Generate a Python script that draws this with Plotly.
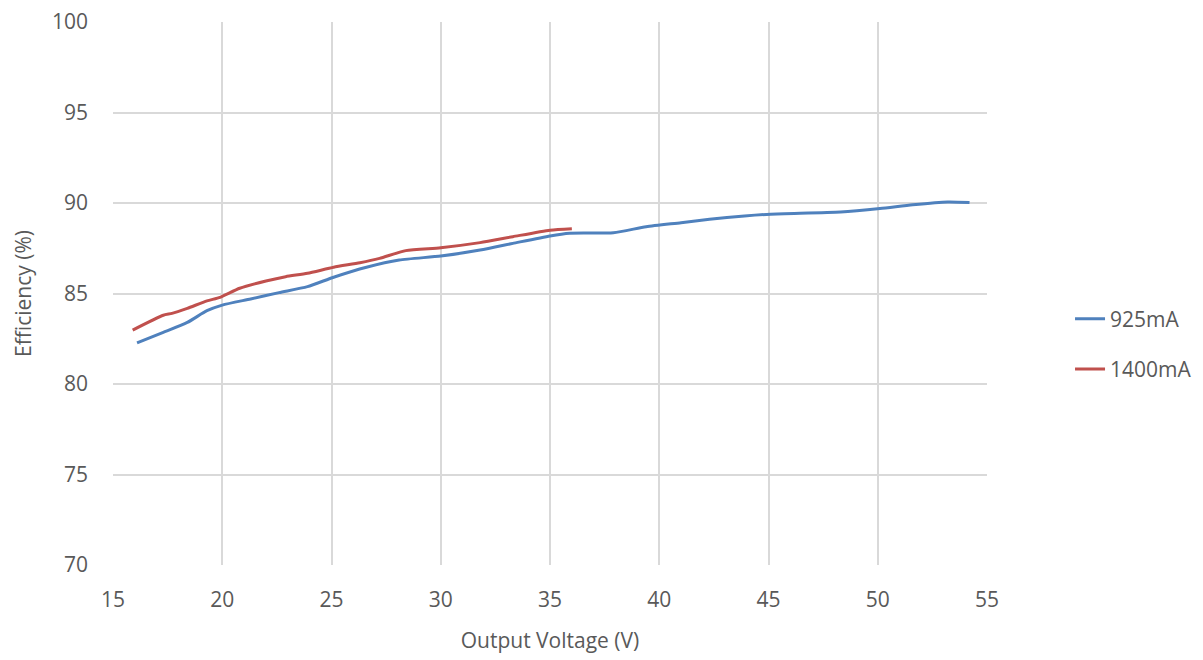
import plotly.graph_objects as go

v_925 = [16.1, 17.3, 18.4, 19.3, 20.0, 21.3, 22.6, 23.9, 25.1, 26.6, 28.1, 30.0, 31.8, 33.3, 35.0, 35.9, 37.9, 39.4, 41.0, 42.3, 43.9, 45.1, 48.3, 50.1, 51.6, 53.2, 54.2]
eff_925 = [82.27, 82.85, 83.4, 84.05, 84.36, 84.7, 85.05, 85.38, 85.9, 86.45, 86.85, 87.07, 87.4, 87.77, 88.18, 88.33, 88.36, 88.69, 88.91, 89.1, 89.28, 89.38, 89.5, 89.69, 89.9, 90.06, 90.03]

v_1400 = [15.9, 17.3, 17.7, 18.4, 19.3, 19.9, 20.8, 22.0, 22.9, 23.9, 25.1, 26.3, 27.2, 28.4, 30.0, 31.8, 33.3, 35.0, 36.0]
eff_1400 = [82.98, 83.8, 83.9, 84.18, 84.59, 84.79, 85.29, 85.69, 85.93, 86.12, 86.45, 86.7, 86.94, 87.37, 87.53, 87.81, 88.14, 88.5, 88.58]

x_ticks = [15, 20, 25, 30, 35, 40, 45, 50, 55]
y_ticks = [70, 75, 80, 85, 90, 95, 100]

FONT = "Open Sans, Liberation Sans, sans-serif"
GRAY = "#595959"
FS = 21

fig = go.Figure()
fig.add_trace(go.Scatter(x=v_925, y=eff_925, mode="lines", name="925mA",
                         line=dict(color="#4F81BD", width=3, shape="spline", smoothing=0.6),
                         legendgroup="a"))
fig.add_trace(go.Scatter(x=v_1400, y=eff_1400, mode="lines", name="1400mA",
                         line=dict(color="#C0504D", width=3, shape="spline", smoothing=0.6),
                         legendgroup="b"))

fig.update_layout(
    width=1195, height=652,
    margin=dict(l=105, r=216, t=14, b=95, autoexpand=False),
    paper_bgcolor="white", plot_bgcolor="white",
    font=dict(family=FONT, color=GRAY, size=FS),
    legend=dict(x=1.095, y=0.407, xanchor="left", yanchor="middle",
                font=dict(size=FS, color=GRAY), tracegroupgap=20,
                bgcolor="rgba(0,0,0,0)"),
    xaxis=dict(range=[15, 55], tickvals=x_ticks, showgrid=True, gridcolor="#D9D9D9",
               gridwidth=1.5, zeroline=False, showline=False, ticks="",
               automargin=False, ticklabelstandoff=20, ticklabeloverflow="allow",
               title=dict(text="Output Voltage (V)", font=dict(size=FS, color=GRAY), standoff=21),
               tickfont=dict(size=FS, color=GRAY)),
    yaxis=dict(range=[70, 100], tickvals=y_ticks, showgrid=True, gridcolor="#D9D9D9",
               gridwidth=1.5, zeroline=False, showline=False, ticks="",
               automargin=False, ticklabelstandoff=24, ticklabeloverflow="allow",
               title=dict(text="Efficiency (%)", font=dict(size=FS, color=GRAY), standoff=14),
               tickfont=dict(size=FS, color=GRAY)),
)

fig.write_html("out.html")
